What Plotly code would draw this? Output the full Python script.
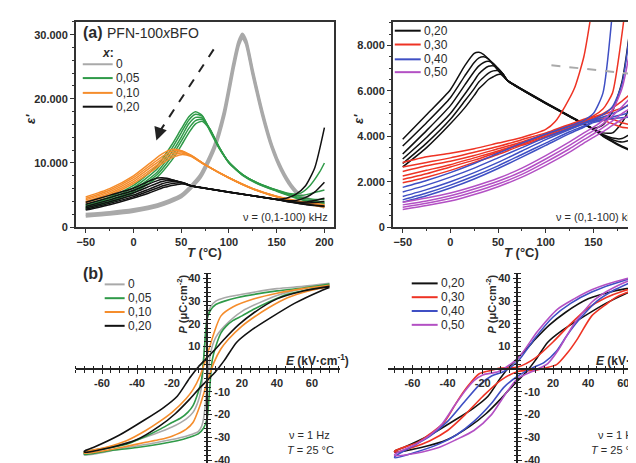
import plotly.graph_objects as go

W, H = 636, 463

# ---------- (a) permittivity vs temperature, several frequencies per composition ----------
T_000 = [-50, -25, 0, 25, 50, 70, 85, 95, 105, 110, 114, 118, 125, 135, 145, 155, 165, 175, 185, 200]
EPS_000 = [
    [2000, 2300, 2750, 3500, 5000, 8100, 12800, 18000, 25600, 28800, 30100, 29000, 24200, 17900, 12700, 9100, 6600, 5000, 4300, 3600],
    [1700, 2000, 2450, 3200, 4700, 7700, 12300, 17400, 25000, 28300, 29600, 28600, 23800, 17500, 12400, 8800, 6300, 4700, 3900, 3100],
]

T_005 = [-50, -25, 0, 25, 40, 50, 58, 65, 72, 80, 90, 100, 115, 130, 150, 165, 175, 185, 195, 200]
EPS_005 = [
    [3500, 4700, 6500, 9600, 12800, 15300, 17200, 18000, 17400, 15000, 12200, 10100, 8100, 6900, 5800, 5200, 5300, 6500, 8600, 10000],
    [3300, 4450, 6150, 9100, 12200, 14700, 16700, 17600, 17300, 15200, 12300, 10100, 8100, 6900, 5750, 5050, 4900, 5200, 5600, 5800],
    [3100, 4200, 5800, 8600, 11600, 14000, 16100, 17100, 17000, 15300, 12400, 10100, 8100, 6850, 5700, 4950, 4600, 4400, 4300, 4300],
    [2950, 4000, 5550, 8200, 11000, 13400, 15400, 16600, 16800, 15300, 12400, 10050, 8050, 6800, 5650, 4850, 4400, 4100, 3900, 3850],
    [2800, 3800, 5300, 7800, 10400, 12700, 14700, 16100, 16500, 15200, 12400, 10000, 8000, 6750, 5600, 4800, 4300, 3950, 3750, 3650],
]

T_010 = [-50, -25, 0, 20, 30, 40, 50, 60, 75, 100, 125, 150, 175, 200]
EPS_010 = [
    [4700, 6000, 8000, 10300, 11400, 12100, 11900, 11100, 9700, 7700, 6000, 4800, 4000, 3500],
    [4450, 5750, 7700, 9900, 11000, 11800, 11900, 11200, 9750, 7700, 6000, 4780, 3950, 3400],
    [4250, 5500, 7400, 9550, 10600, 11450, 11750, 11200, 9750, 7700, 5980, 4760, 3900, 3300],
    [4000, 5250, 7100, 9150, 10250, 11100, 11550, 11150, 9750, 7680, 5960, 4740, 3850, 3200],
    [3800, 5000, 6800, 8800, 9900, 10800, 11300, 11050, 9700, 7650, 5940, 4720, 3800, 3100],
]

T_020 = [-50, -25, 0, 15, 25, 30, 35, 40, 45, 50, 55, 60, 75, 100, 125, 150, 160, 170, 180, 190, 200]
EPS_020 = [
    [3870, 4950, 6050, 7100, 7650, 7700, 7600, 7400, 7150, 6900, 6650, 6450, 6080, 5480, 4900, 4350, 4500, 5100, 6400, 9300, 15500],
    [3570, 4600, 5700, 6650, 7250, 7450, 7500, 7400, 7200, 6950, 6700, 6450, 6070, 5470, 4900, 4330, 4150, 4150, 4600, 5500, 7000],
    [3220, 4250, 5350, 6250, 6850, 7100, 7250, 7300, 7200, 7000, 6750, 6450, 6060, 5460, 4890, 4320, 4080, 3920, 3900, 4150, 4500],
    [3000, 3950, 5000, 5850, 6450, 6750, 6950, 7080, 7100, 6980, 6750, 6450, 6050, 5450, 4880, 4310, 4050, 3850, 3750, 3850, 4000],
    [2800, 3700, 4750, 5550, 6100, 6400, 6600, 6780, 6880, 6890, 6750, 6450, 6050, 5450, 4870, 4300, 4020, 3780, 3560, 3400, 3300],
    [2650, 3500, 4550, 5250, 5800, 6100, 6300, 6500, 6620, 6720, 6700, 6450, 6040, 5440, 4870, 4300, 4000, 3750, 3520, 3350, 3200],
]

T_030 = [-50, -25, 0, 25, 50, 75, 100, 110, 120, 130, 140, 150, 160, 170, 180, 190, 200]
EPS_030 = [
    [2850, 3100, 3250, 3450, 3700, 3950, 4300, 4650, 5300, 6100, 7500, 10000, None, None, None, None, None],
    [2650, 2850, 3050, 3300, 3550, 3850, 4150, 4300, 4450, 4600, 4750, 4900, 5200, 5900, 8500, 12000, None],
    [2450, 2700, 2900, 3150, 3450, 3750, 4100, 4250, 4400, 4550, 4700, 4850, 5000, 5250, 5550, 5900, 6250],
    [2250, 2500, 2750, 3050, 3350, 3700, 4050, 4200, 4350, 4500, 4650, 4800, 4950, 5100, 5250, 5400, 5600],
    [2100, 2350, 2650, 2950, 3300, 3650, 4000, 4150, 4300, 4450, 4600, 4750, 4800, 4750, 4600, 4500, 4450],
    [1950, 2200, 2500, 2850, 3200, 3600, 3950, 4100, 4250, 4400, 4550, 4700, 4700, 4550, 4400, 4350, 4300],
]

T_HI = [-50, -25, 0, 25, 50, 75, 100, 125, 140, 150, 160, 170, 180, 190, 200]
EPS_040 = [
    [1750, 2050, 2400, 2800, 3250, 3700, 4100, 4450, 4700, 5000, 5900, 9500, None, None, None],
    [1550, 1850, 2200, 2600, 3050, 3500, 3950, 4350, 4600, 4750, 4950, 5300, 6300, 9200, None],
    [1350, 1650, 2000, 2400, 2850, 3350, 3850, 4300, 4550, 4700, 4850, 5000, 5200, 5500, 5900],
    [1200, 1500, 1850, 2250, 2700, 3200, 3700, 4200, 4450, 4650, 4750, 4850, 4950, 5050, 5150],
    [1100, 1380, 1720, 2120, 2580, 3080, 3600, 4120, 4400, 4600, 4700, 4780, 4820, 4850, 4850],
]
EPS_050 = [
    [1100, 1280, 1500, 1800, 2150, 2600, 3150, 3750, 4150, 4400, 4700, 5150, 6100, 8300, 12000],
    [980, 1150, 1380, 1680, 2020, 2450, 3000, 3600, 4000, 4250, 4550, 4900, 5300, 5750, 6200],
    [880, 1050, 1270, 1560, 1900, 2320, 2860, 3450, 3850, 4100, 4380, 4680, 5000, 5250, 5500],
    [780, 950, 1150, 1440, 1780, 2200, 2720, 3300, 3700, 3950, 4200, 4480, 4750, 4980, 5200],
]

# ---------- (b) P-E loops: upper branch (field decreasing), lower branch (field increasing) ----------
E_U00 = [70, 55, 40, 20, 10, 5, 2, 0, -1, -2, -3, -5, -8, -12, -20, -30, -46, -70]
P_U00 = [37.8, 36.5, 35.5, 33, 31.5, 30, 27.5, 22, 14, 3, -7, -14, -19, -22, -25.5, -28.5, -32.5, -37]
E_L00 = [-70, -46, -30, -20, -12, -8, -5, -3, -2, -1, 0, 2, 5, 10, 20, 40, 55, 70]
P_L00 = [-37.8, -34.5, -32.5, -31, -29.5, -28.5, -27.5, -25, -22, -16, -8, 7, 14, 19, 25.5, 32.5, 35.5, 37]

E_U05 = [70, 55, 40, 17, 10, 5, 2, 0, -1, -2, -3, -5, -8, -11, -15, -20, -27, -35, -46, -58, -70]
P_U05 = [37.5, 35.8, 34.5, 31.5, 30, 28.5, 26, 22, 14, 4, -4, -10, -16, -19, -21.5, -23.5, -26.5, -29.5, -33, -35, -36.5]
E_L05 = [-70, -55, -40, -17, -10, -5, -2, 0, 1, 2, 3, 5, 8, 11, 15, 20, 27, 35, 46, 58, 70]
P_L05 = [-37.5, -35.8, -34.5, -31.5, -30, -28.5, -26, -22, -14, -4, 4, 10, 16, 19, 21.5, 23.5, 26.5, 29.5, 33, 35, 36.5]

E_U10 = [70, 55, 40, 27, 15, 8, 4, 0, -4, -8, -12, -20, -27, -35, -46, -58, -70]
P_U10 = [37, 35.5, 33.5, 31, 27.5, 23.5, 16, 6, -3, -9, -13, -19, -23, -27, -31.5, -34.5, -36.5]
E_L10 = [-70, -58, -46, -35, -27, -20, -12, -8, -4, 0, 4, 8, 12, 20, 27, 35, 46, 58, 70]
P_L10 = [-37, -35.8, -34, -32.2, -31, -29.5, -26.5, -23.5, -16, -6, 3, 9, 13, 19, 23, 27, 31.5, 34.5, 36.5]

E_U20 = [70, 55, 40, 27, 18, 10, 5, 0, -5, -10, -17, -25, -36, -50, -65, -70]
P_U20 = [36.5, 34.5, 31, 25, 19.5, 13.3, 9, 5, 1, -4, -11.9, -17, -22.5, -29, -34.5, -36]
E_L20 = [-70, -55, -40, -27, -18, -10, -5, 0, 5, 10, 17, 25, 36, 50, 65, 70]
P_L20 = [-36.5, -34.5, -31, -25, -19.5, -13.3, -9, -5, -1, 4, 11.9, 17, 22.5, 29, 34.5, 36]

E_U30 = [70, 60, 50, 40, 30, 20, 10, 0, -10, -15, -22, -28, -34, -42, -50, -56.5, -70]
P_U30 = [36.5, 34.5, 31.5, 27, 20, 12, 5, 1, 0.5, -0.5, -2, -7, -13.5, -23.5, -28.5, -32, -36]
E_L30 = [-70, -60, -50, -40, -30, -20, -10, 0, 10, 15, 22, 28, 34, 42, 50, 56.5, 70]
P_L30 = [-36.5, -34.5, -31.5, -27, -20, -12, -5, -1, -0.5, 0.5, 2, 7, 13.5, 23.5, 28.5, 32, 36]

E_U40 = [70, 60, 42, 30, 20, 10, 0, -8, -15, -22, -30, -40, -50, -60, -70]
P_U40 = [40.5, 39, 34, 29, 23, 14, 3.5, -1, -3, -7, -14, -23, -29.5, -34, -38.5]
E_L40 = [-70, -60, -45, -35, -25, -15, -8, 0, 8, 15, 22, 28, 35, 45, 55, 70]
P_L40 = [-39, -37, -33, -29, -23, -15, -8, -3, 0.5, 3, 8, 15, 22, 30, 35, 40.5]

E_U50 = [70, 60, 42, 32, 22.6, 11, 0, -11, -20, -25, -30, -36, -43, -50, -58, -70]
P_U50 = [41, 39.5, 35, 31, 26.5, 16.5, 4.8, -1, -2.5, -5, -9.5, -16, -24, -29, -33, -37.5]
E_L50 = [-70, -58, -45, -35, -25, -15, -8, 0, 11, 17, 22.6, 28, 32, 37, 42, 50, 60, 70]
P_L50 = [-38, -37, -34.5, -31, -27, -20, -12, -4, 0, 2.5, 8, 15, 20, 25, 29.5, 34, 38, 41]

# guide marks drawn in panel (a)
ARROW_T = [84, 27]
ARROW_EPS = [27700, 14800]
ARROW_TIP = [24, 13500]
GUIDE_T = [106, 200]
GUIDE_EPS = [7130, 6700]

GRAY, GREEN, ORANGE, BLACK = "#a9a9a9", "#2f9a48", "#f58d2c", "#111111"
RED, BLUE, MAGENTA = "#ee3324", "#3f4fc4", "#b350c4"
TXT = "#2b2b2b"
FONT = "Liberation Sans"


def px(x):
    return x / W


def py(y):
    return 1 - y / H


fig = go.Figure()


def curves(T, rows, color, xa, ya, width=1.5):
    for r in rows:
        fig.add_trace(go.Scatter(x=T, y=r, mode="lines", xaxis=xa, yaxis=ya,
                                 line=dict(color=color, width=width, shape="spline", smoothing=0.6),
                                 showlegend=False, hoverinfo="skip"))


def loop(eu, pu, el, pl, color, xa, ya):
    fig.add_trace(go.Scatter(x=eu + el, y=pu + pl, mode="lines", xaxis=xa, yaxis=ya,
                             line=dict(color=color, width=1.6, shape="spline", smoothing=0.7),
                             showlegend=False, hoverinfo="skip"))


# panel (a) left
curves(T_000, EPS_000, GRAY, "x", "y", width=3)
curves(T_005, EPS_005, GREEN, "x", "y")
curves(T_010, EPS_010, ORANGE, "x", "y")
curves(T_020, EPS_020, BLACK, "x", "y")
# panel (a) right
curves(T_020, EPS_020, BLACK, "x2", "y2")
curves(T_030, EPS_030, RED, "x2", "y2")
curves(T_HI, EPS_040, BLUE, "x2", "y2")
curves(T_HI, EPS_050, MAGENTA, "x2", "y2")

# panel (b) left
loop(E_U00, P_U00, E_L00, P_L00, GRAY, "x3", "y3")
loop(E_U05, P_U05, E_L05, P_L05, GREEN, "x3", "y3")
loop(E_U10, P_U10, E_L10, P_L10, ORANGE, "x3", "y3")
loop(E_U20, P_U20, E_L20, P_L20, BLACK, "x3", "y3")
# panel (b) right
loop(E_U20, P_U20, E_L20, P_L20, BLACK, "x4", "y4")
loop(E_U30, P_U30, E_L30, P_L30, RED, "x4", "y4")
loop(E_U40, P_U40, E_L40, P_L40, BLUE, "x4", "y4")
loop(E_U50, P_U50, E_L50, P_L50, MAGENTA, "x4", "y4")

# empty traces so the twin tick axes (ticks on the other side of the crossing axes) get drawn
for xa, ya in [("x5", "y3"), ("x3", "y5"), ("x6", "y4"), ("x4", "y6")]:
    fig.add_trace(go.Scatter(x=[None], y=[None], xaxis=xa, yaxis=ya, showlegend=False, hoverinfo="skip"))

TF = dict(family=FONT, size=11, color=TXT, weight="bold")
frame = dict(showline=True, mirror=True, linecolor="#333", linewidth=1.5, showgrid=False,
             zeroline=False, ticks="outside", ticklen=4, tickwidth=1.2, tickcolor="#333", tickfont=TF)

fig.update_layout(
    width=W, height=H, margin=dict(l=0, r=0, t=0, b=0),
    paper_bgcolor="white", plot_bgcolor="white", showlegend=False,
    xaxis=dict(domain=[px(68), px(327)], range=[-60.4, 210], anchor="y",
               tickvals=[-50, 0, 50, 100, 150, 200],
               minor=dict(dtick=25, tick0=0, ticks="outside", ticklen=2.5, tickcolor="#333"), **frame),
    yaxis=dict(domain=[py(222), py(14)], range=[0, 32000], anchor="x",
               tickvals=[0, 10000, 20000, 30000], ticktext=["0", "10.000", "20.000", "30.000"],
               minor=dict(dtick=2000, tick0=0, ticks="outside", ticklen=2.5, tickcolor="#333"), **frame),
    xaxis2=dict(domain=[px(386), 1], range=[-60.4, 201], anchor="y2",
                tickvals=[-50, 0, 50, 100, 150, 200],
                minor=dict(dtick=25, tick0=0, ticks="outside", ticklen=2.5, tickcolor="#333"), **frame),
    yaxis2=dict(domain=[py(222), py(14)], range=[0, 9040], anchor="x2",
                tickvals=[0, 2000, 4000, 6000, 8000], ticktext=["0", "2.000", "4.000", "6.000", "8.000"],
                minor=dict(dtick=500, tick0=0, ticks="outside", ticklen=2.5, tickcolor="#333"), **frame),
)

P_POS = [10, 20, 30, 40]
P_NEG = [-40, -30, -20, -10]
E_TICKS = [-60, -40, -20, 20, 40, 60]
cross = dict(showline=True, linecolor="#222", linewidth=1.5, showgrid=False, zeroline=False,
             ticks="outside", ticklen=4, tickwidth=1.3, tickcolor="#222", tickfont=TF)
for n, dom, rng, x0, twin in [(3, [px(68), px(333)], [-75, 76], 200, 5),
                              (4, [px(381), 1], [-74, 70.6], 511, 6)]:
    fig.layout[f"xaxis{n}"] = dict(domain=dom, range=rng, anchor="free", position=py(366), side="bottom",
                                   tickvals=E_TICKS, ticktext=[str(v) for v in E_TICKS],
                                   minor=dict(dtick=5, tick0=0, ticks="outside", ticklen=3, tickcolor="#222"),
                                   **cross)
    fig.layout[f"xaxis{twin}"] = dict(overlaying=f"x{n}", range=rng, anchor="free", position=py(366), side="top",
                                      tickvals=E_TICKS, showticklabels=False,
                                      minor=dict(dtick=5, tick0=0, ticks="outside", ticklen=3, tickcolor="#222"),
                                      **cross)
    fig.layout[f"yaxis{n}"] = dict(domain=[0, py(268)], range=[-42.2, 42.6], anchor="free", position=px(x0),
                                   side="left", tickvals=P_POS, ticktext=[str(v) for v in P_POS],
                                   minor=dict(dtick=2, tick0=0, ticks="outside", ticklen=3, tickcolor="#222"),
                                   **cross)
    fig.layout[f"yaxis{twin}"] = dict(overlaying=f"y{n}", range=[-42.2, 42.6], anchor="free", position=px(x0),
                                      side="right", tickvals=P_NEG, ticktext=[str(v) for v in P_NEG],
                                      minor=dict(dtick=2, tick0=0, ticks="outside", ticklen=3, tickcolor="#222"),
                                      **cross)

shapes = []
annots = []


def text(x, y, s, size=12, xanchor="left", angle=0, bold=False):
    annots.append(dict(x=px(x), y=py(y), xref="paper", yref="paper", text=s, showarrow=False,
                       xanchor=xanchor, yanchor="middle", textangle=angle,
                       font=dict(family=FONT, size=size, color=TXT, weight="bold" if bold else "normal")))


def legend(x0, x1, ys, colors, labels, size=12):
    for y, c, lab in zip(ys, colors, labels):
        shapes.append(dict(type="line", xref="paper", yref="paper", x0=px(x0), x1=px(x1), y0=py(y), y1=py(y),
                           line=dict(color=c, width=2)))
        text(x1 + 1, y, lab, size=size)


# panel (a) texts
text(73, 25, "(a)", size=16, bold=True)
text(97, 25, "PFN-100<i>x</i>BFO", size=14)
text(92, 46, "<i>x</i>:", size=12, bold=True)
legend(75, 105, [57, 71, 86, 100], [GRAY, GREEN, ORANGE, BLACK], ["0", "0,05", "0,10", "0,20"])
legend(388, 414, [23, 37, 52, 65], [BLACK, RED, BLUE, MAGENTA], ["0,20", "0,30", "0,40", "0,50"])
text(323, 212, "ν = (0,1-100) kHz", size=11, xanchor="right")
text(548, 212, "ν = (0,1-100) kHz", size=11)
text(13, 112, "<i>ε'</i>", size=13, angle=-90, bold=True)
text(342, 112, "<i>ε'</i>", size=13, angle=-90, bold=True)
text(197, 248, "<i>T</i> (°C)", size=13, xanchor="center", bold=True)
text(515, 248, "<i>T</i> (°C)", size=13, xanchor="center", bold=True)

# dashed guides
shapes.append(dict(type="line", xref="x", yref="y", x0=ARROW_T[0], y0=ARROW_EPS[0], x1=ARROW_T[1], y1=ARROW_EPS[1],
                   line=dict(color="#222", width=2, dash="dash")))
annots.append(dict(x=ARROW_TIP[0], y=ARROW_TIP[1], xref="x", yref="y", ax=ARROW_T[1], ay=ARROW_EPS[1],
                   axref="x", ayref="y", text="", showarrow=True, arrowhead=2, arrowsize=1.3,
                   arrowwidth=2, arrowcolor="#222"))
shapes.append(dict(type="line", xref="x2", yref="y2", x0=GUIDE_T[0], y0=GUIDE_EPS[0], x1=GUIDE_T[1], y1=GUIDE_EPS[1],
                   line=dict(color="#aaaaaa", width=2, dash="dash")))

# panel (b) texts
text(73, 269, "(b)", size=16, bold=True)
legend(97, 117, [280, 294, 308, 322], [GRAY, GREEN, ORANGE, BLACK], ["0", "0,05", "0,10", "0,20"])
legend(405, 431, [279, 293, 307, 321], [BLACK, RED, BLUE, MAGENTA], ["0,20", "0,30", "0,40", "0,50"])
for x0, ex in [(175, 277), (485, 588)]:
    text(x0, 300, "<i>P</i> (μC·cm<sup>-2</sup>)", size=11, angle=-90, xanchor="center", bold=True)
    text(ex, 357, "<i>E</i> (kV·cm<sup>-1</sup>)", size=12, bold=True)
text(280, 433, "ν = 1 Hz", size=11)
text(278, 448, "<i>T</i> = 25 °C", size=11)
text(590, 433, "ν = 1 Hz", size=11)
text(583, 448, "<i>T</i> = 25 °C", size=11)

fig.update_layout(shapes=shapes, annotations=annots)
fig.write_html("out.html")
